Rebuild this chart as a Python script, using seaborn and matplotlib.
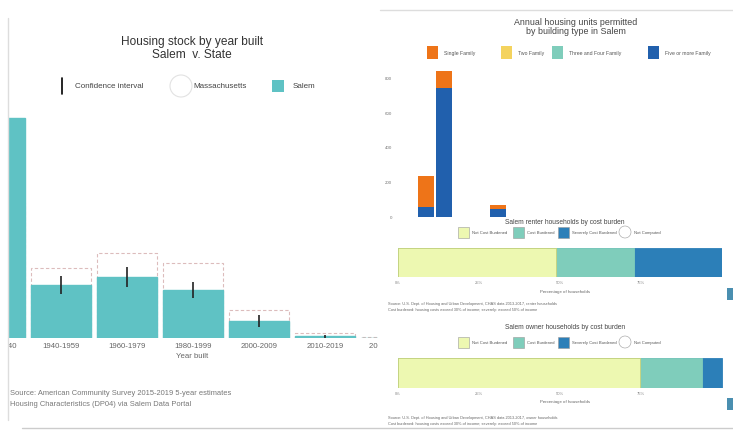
import matplotlib
matplotlib.use("Agg")
import matplotlib.pyplot as plt
import seaborn as sns
import numpy as np
import pandas as pd
from matplotlib.patches import Rectangle, Ellipse
from matplotlib.lines import Line2D
from matplotlib.transforms import Bbox, TransformedBbox, blended_transform_factory

# ---------------- data ----------------
year_built = ["Before 1940", "1940-1959", "1960-1979", "1980-1999",
              "2000-2009", "2010-2019", "2020 or later"]
salem_pct = [44.0, 10.6, 12.2, 9.6, 3.4, 0.4, 0.1]
salem_ci = [1.5, 1.8, 2.0, 1.6, 1.2, 0.3, 0.1]
ma_pct = [27.0, 14.0, 17.0, 15.0, 5.6, 1.0, 0.3]

permit_years = ["2016", "2017", "2018", "2019", "2020"]
single_family = [180, 98, 0, 0, 24]
two_family = [0, 0, 0, 0, 0]
three_four_family = [0, 0, 0, 0, 0]
five_plus_family = [58, 748, 0, 0, 46]
permit_types = ["Single Family", "Two Family", "Three and Four Family", "Five or more Family"]
permit_ticks = [0, 200, 400, 600, 800]

burden_labels = ["Not Cost Burdened", "Cost Burdened", "Severely Cost Burdened", "Not Computed"]
renter_share = [48.8, 24.1, 27.1]
owner_share = [74.8, 19.0, 6.2]
pct_ticks = [0, 25, 50, 75]
pct_tick_labels = ["0%", "25%", "50%", "75%"]

# ---------------- style ----------------
sns.set_style("white")
plt.rcParams["font.family"] = ["Liberation Sans", "DejaVu Sans"]

W, H = 733, 436
fig = plt.figure(figsize=(W / 100, H / 100), dpi=100)
fig.patch.set_facecolor("white")

TEAL = "#5fc2c4"
GREY_TXT = "#666666"
ORANGE = "#ee7418"
YELLOW = "#f4d35e"
GREEN = "#7fcdbb"
DBLUE = "#2160ad"
YL = "#edf8b1"
TL = "#7fcdbb"
BL = "#2c7fb8"


def add_ax(x0, y0, x1, y1):
    return fig.add_axes([x0 / W, 1 - y1 / H, (x1 - x0) / W, (y1 - y0) / H])


def ftext(x, y, s, **kw):
    return fig.text(x / W, 1 - y / H, s, **kw)


def fsquare(x, y, w, h, fc, ec="none", lw=0.6):
    fig.patches.append(Rectangle((x / W, 1 - (y + h) / H), w / W, h / H,
                                 transform=fig.transFigure, fc=fc, ec=ec, lw=lw))


def fline(x0, y0, x1, y1, **kw):
    fig.lines.append(Line2D([x0 / W, x1 / W], [1 - y0 / H, 1 - y1 / H],
                            transform=fig.transFigure, **kw))


# panel frame lines
fline(8, 18, 8, 420, color="#dddddd", lw=1.0)
fline(22, 428, 733, 428, color="#cccccc", lw=1.0)
fline(380, 10, 733, 10, color="#dddddd", lw=1.0)

# ---------------- left: housing stock by year built ----------------
ftext(192, 48.5, "Housing stock by year built\nSalem  v. State", ha="center", va="center",
      fontsize=8.6, color="#333333", linespacing=1.2)

# legend
fline(62, 78, 62, 94, color="black", lw=1.2)
ftext(75, 86, "Confidence interval", ha="left", va="center", fontsize=5.8, color="#444444")
fig.patches.append(Ellipse((181 / W, 1 - 86 / H), 22 / W, 22 / H, transform=fig.transFigure,
                           fc="white", ec="#e2e2e2", lw=0.8))
ftext(193, 86, "Massachusetts", ha="left", va="center", fontsize=5.8, color="#444444")
fsquare(272, 80, 12, 12, TEAL)
ftext(293, 86, "Salem", ha="left", va="center", fontsize=5.8, color="#444444")

ax = add_ax(8, 100, 378, 338)
df_ma = pd.DataFrame({"year": year_built, "pct": ma_pct})
df_salem = pd.DataFrame({"year": year_built, "pct": salem_pct})
sns.barplot(data=df_ma, x="year", y="pct", order=year_built, color="white",
            edgecolor="#dcbcbc", linewidth=0.8, linestyle=(0, (3, 2)), width=0.91,
            saturation=1, errorbar=None, ax=ax)
sns.barplot(data=df_salem, x="year", y="pct", order=year_built, color=TEAL,
            width=0.91, saturation=1, errorbar=None, edgecolor=TEAL, linewidth=1.0, ax=ax)
ax.errorbar(np.arange(len(year_built)), salem_pct, yerr=salem_ci, fmt="none",
            ecolor="#222222", elinewidth=1.2, capsize=0, zorder=5)
ax.set_xlim(0.197, 5.80)
ax.set_ylim(0, 47.6)
ax.set_xticks([])
ax.set_yticks([])
ax.set_xlabel("")
ax.set_ylabel("")
for s in ax.spines.values():
    s.set_visible(False)
trans = blended_transform_factory(ax.transData, ax.transAxes)
clip = TransformedBbox(Bbox([[0, -0.3], [1, 1]]), ax.transAxes)
for i, lab in enumerate(year_built):
    t = ax.text(i, -0.02, lab, transform=trans, ha="center", va="top",
                fontsize=5.6, color=GREY_TXT, clip_on=True)
    t.set_clip_box(clip)
ftext(192, 356, "Year built", ha="center", va="center", fontsize=5.6, color=GREY_TXT)

ftext(10, 393, "Source: American Community Survey 2015-2019 5-year estimates", ha="left",
      va="center", fontsize=5.4, color="#777777")
ftext(10, 404, "Housing Characteristics (DP04) via Salem Data Portal", ha="left",
      va="center", fontsize=5.4, color="#777777")

# ---------------- right top: permits ----------------
ftext(576, 27, "Annual housing units permitted\nby building type in Salem", ha="center",
      va="center", fontsize=6.4, color="#444444", linespacing=1.05)
for x, c, lab in [(427, ORANGE, permit_types[0]), (501, YELLOW, permit_types[1]),
                  (552, GREEN, permit_types[2]), (648, DBLUE, permit_types[3])]:
    fsquare(x, 46, 11, 13, c)
    ftext(x + 17, 53, lab, ha="left", va="center", fontsize=3.7, color="#555555")

ax2 = add_ax(395, 65, 730, 217)
layers = [five_plus_family, three_four_family, two_family, single_family]
layer_colors = [DBLUE, GREEN, YELLOW, ORANGE]
cum = np.cumsum(np.array(layers, dtype=float), axis=0)
for k in range(len(layers) - 1, -1, -1):
    dfk = pd.DataFrame({"year": permit_years, "units": cum[k]})
    sns.barplot(data=dfk, x="year", y="units", order=permit_years, color=layer_colors[k],
                width=0.88, saturation=1, errorbar=None, linewidth=0, ax=ax2)
ax2.set_xlim(-1.72, 16.9)
ax2.set_ylim(0, 881)
ax2.set_yticks(permit_ticks)
ax2.set_yticklabels([str(v) for v in permit_ticks], fontsize=3.2, color="#777777")
ax2.tick_params(axis="y", length=0, pad=2)
ax2.set_xticks([])
ax2.set_xlabel("")
ax2.set_ylabel("")
for s in ax2.spines.values():
    s.set_visible(False)
ax2.patch.set_alpha(0)


# ---------------- right: cost burden bars ----------------
def burden_panel(title, ty, ly, bx0, bx1, by0, by1, shares, xly, foot_y, foot):
    ftext(565, ty, title, ha="center", va="center", fontsize=4.8, color="#444444")
    for x, c, lab in [(458, YL, burden_labels[0]), (513, TL, burden_labels[1]),
                      (558, BL, burden_labels[2])]:
        fsquare(x, ly - 5, 11, 11, c, ec="#999999", lw=0.4)
        ftext(x + 14, ly + 0.5, lab, ha="left", va="center", fontsize=3.0, color="#555555")
    fig.patches.append(Ellipse((625 / W, 1 - ly / H), 12 / W, 12 / H, transform=fig.transFigure,
                               fc="white", ec="#999999", lw=0.4))
    ftext(634, ly + 0.5, burden_labels[3], ha="left", va="center", fontsize=3.0, color="#555555")

    axb = add_ax(bx0, by0, bx1, by1)
    cs = np.cumsum(shares)
    cols = [YL, TL, BL]
    for k in range(len(shares) - 1, -1, -1):
        dfb = pd.DataFrame({"grp": ["Salem"], "share": [cs[k]]})
        sns.barplot(data=dfb, x="share", y="grp", orient="h", color=cols[k], width=1.0,
                    saturation=1, errorbar=None, edgecolor="#c9d27a" if k == 0 else cols[k],
                    linewidth=0.6, ax=axb)
    axb.set_xlim(0, 100 * (bx1 - bx0) / 324)
    axb.set_ylim(0.5, -0.5)
    axb.set_yticks([])
    axb.set_xticks(pct_ticks)
    axb.set_xticklabels(pct_tick_labels, fontsize=3.0, color="#888888")
    axb.tick_params(axis="x", length=0, pad=3)
    axb.set_xlabel("")
    axb.set_ylabel("")
    for s in axb.spines.values():
        s.set_visible(False)
    ftext(565, xly, "Percentage of households", ha="center", va="center", fontsize=3.2,
          color="#666666")
    for j, line in enumerate(foot):
        ftext(388, foot_y + 6 * j, line, ha="left", va="center", fontsize=2.8, color="#666666")
    fsquare(727, xly - 4, 8, 12, "#4a8fb0")


burden_panel("Salem renter households by cost burden", 222, 232, 398, 722, 248, 277,
             renter_share, 292, 304,
             ["Source: U.S. Dept. of Housing and Urban Development, CHAS data 2013-2017, renter households",
              "Cost burdened: housing costs exceed 30% of income; severely: exceed 50% of income"])
burden_panel("Salem owner households by cost burden", 327, 342, 398, 736, 358, 388,
             owner_share, 402, 418,
             ["Source: U.S. Dept. of Housing and Urban Development, CHAS data 2013-2017, owner households",
              "Cost burdened: housing costs exceed 30% of income; severely: exceed 50% of income"])

fig.savefig("out.png", dpi=100, facecolor="white")
